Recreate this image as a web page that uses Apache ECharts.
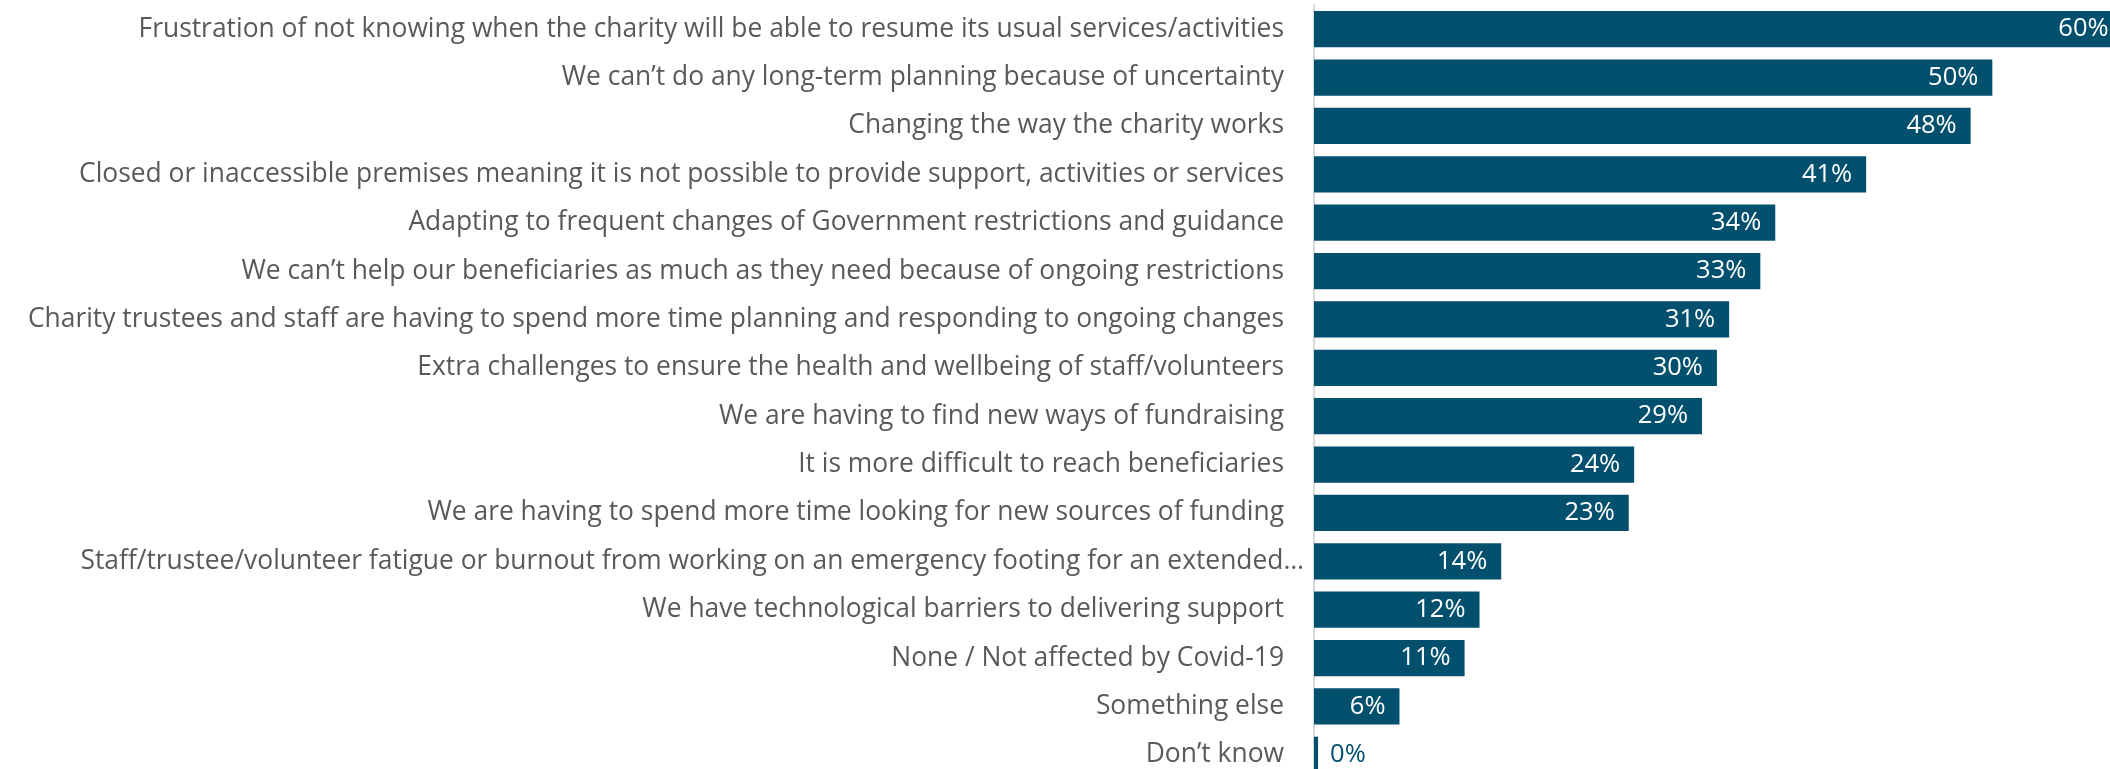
<!DOCTYPE html>
<html><head><meta charset="utf-8">
<script src="https://cdn.jsdelivr.net/npm/echarts@6/dist/echarts.min.js"></script>
<style>html,body{margin:0;padding:0;background:#fff}#c{width:2110px;height:769px}</style>
</head><body><div id="c"></div>
<script>
const categories = [
  "Frustration of not knowing when the charity will be able to resume its usual services/activities",
  "We can\u2019t do any long-term planning because of uncertainty",
  "Changing the way the charity works",
  "Closed or inaccessible premises meaning it is not possible to provide support, activities or services",
  "Adapting to frequent changes of Government restrictions and guidance",
  "We can\u2019t help our beneficiaries as much as they need because of ongoing restrictions",
  "Charity trustees and staff are having to spend more time planning and responding to ongoing changes",
  "Extra challenges to ensure the health and wellbeing of staff/volunteers",
  "We are having to find new ways of fundraising",
  "It is more difficult to reach beneficiaries",
  "We are having to spend more time looking for new sources of funding",
  "Staff/trustee/volunteer fatigue or burnout from working on an emergency footing for an extended\u2026",
  "We have technological barriers to delivering support",
  "None / Not affected by Covid-19",
  "Something else",
  "Don\u2019t know"
];
const values = [59.6, 50.0, 48.4, 40.7, 34.0, 32.9, 30.6, 29.7, 28.6, 23.6, 23.2, 13.8, 12.2, 11.1, 6.3, 0.3];

const barColor = '#02506E';
const FONT = 'Open Sans';
const LS = 26.4;

const chart = echarts.init(document.getElementById('c'), null, {renderer: 'canvas'});
chart.setOption({
  animation: false,
  grid: {left: 1314, right: -18, top: 5, bottom: -10, containLabel: false, outerBoundsMode: 'none'},
  xAxis: {type: 'value', min: 0, max: 60, show: false},
  yAxis: {
    type: 'category', inverse: true, data: categories,
    axisLine: {show: true, lineStyle: {color: '#D9D9D9', width: 2}},
    axisTick: {show: false},
    axisLabel: {
      margin: 10, color: '#595959', fontFamily: FONT, fontSize: LS,
      formatter: function (v) { return v.endsWith('\u2026') ? '{e|' + v + '}' : '{n|' + v + '}'; },
      rich: {
        n: {color: '#595959', fontFamily: FONT, fontSize: LS, padding: [0, 20, 0, 0]},
        e: {color: '#595959', fontFamily: FONT, fontSize: LS}
      }
    }
  },
  series: [{
    type: 'bar', barCategoryGap: '25%',
    data: values.map(function (v) {
      const item = {value: v};
      if (v < 3) item.label = {position: 'right', color: barColor, distance: 12};
      return item;
    }),
    itemStyle: {color: barColor},
    label: {
      show: true, position: 'insideRight', distance: 14, color: '#ffffff',
      fontFamily: FONT, fontSize: 25.5,
      formatter: function (p) { return Math.round(p.value) + '%'; }
    }
  }]
});
</script></body></html>
